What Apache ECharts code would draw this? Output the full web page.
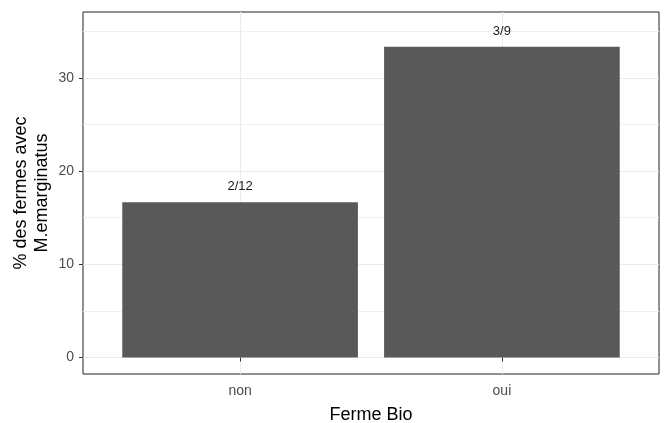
<!DOCTYPE html>
<html>
<head>
<meta charset="utf-8">
<script src="https://cdn.jsdelivr.net/npm/echarts@6/dist/echarts.min.js"></script>
<style>
html,body{margin:0;padding:0;background:#fff;}
#chart{width:665px;height:423px;}
</style>
</head>
<body>
<div id="chart"></div>
<script>
const categories = ['non', 'oui'];
const values = [16.6667, 33.3333];
const barLabels = ['2/12', '3/9'];
const yTicks = [0, 10, 20, 30];
const xTitle = 'Ferme Bio';
const yTitle = '% des fermes avec\nM.emarginatus';

const chart = echarts.init(document.getElementById('chart'), null, {renderer: 'canvas'});
const font = 'Liberation Sans, Arial, sans-serif';
const xPositions = categories.map((c, i) => i + 1);

chart.setOption({
  animation: false,
  grid: {left: 83, right: 6, top: 12, bottom: 49, show: true, borderColor: '#222222', borderWidth: 1,
    backgroundColor: '#fff', containLabel: false, outerBoundsMode: 'none'},
  xAxis: {
    type: 'value', min: 0.4, max: 2.6, splitNumber: 2,
    name: xTitle, nameLocation: 'middle', nameGap: 32,
    nameTextStyle: {fontFamily: font, fontSize: 18, color: '#000'},
    axisLine: {show: false},
    axisTick: {show: true, length: 4, customValues: xPositions, lineStyle: {color: '#333333'}},
    axisLabel: {customValues: xPositions, margin: 10, fontFamily: font, fontSize: 14, color: '#4D4D4D',
      formatter: v => categories[Math.round(v) - 1] || ''},
    splitLine: {show: true, lineStyle: {color: '#EBEBEB', width: 1}}
  },
  yAxis: {
    type: 'value', min: -1.77, max: 37.07,
    name: yTitle, nameLocation: 'middle', nameGap: 30, nameRotate: 90, nameMoveOverlap: false,
    nameTextStyle: {fontFamily: font, fontSize: 18, color: '#000', lineHeight: 21, align: 'center'},
    axisLine: {show: false},
    axisTick: {show: true, length: 4, customValues: yTicks, lineStyle: {color: '#333333'}},
    axisLabel: {customValues: yTicks, margin: 9, fontFamily: font, fontSize: 14, color: '#4D4D4D'},
    splitLine: {show: true, lineStyle: {color: '#EBEBEB', width: 1}},
    minorTick: {show: false, splitNumber: 2},
    minorSplitLine: {show: true, lineStyle: {color: '#F0F0F0', width: 1}}
  },
  series: [{
    type: 'bar',
    barWidth: '90%',
    data: values.map((v, i) => [xPositions[i], v]),
    itemStyle: {color: '#595959'},
    label: {
      show: true, position: 'top', distance: 9,
      fontFamily: font, fontSize: 13, color: '#1a1a1a',
      formatter: p => barLabels[p.dataIndex]
    }
  }]
});
</script>
</body>
</html>
